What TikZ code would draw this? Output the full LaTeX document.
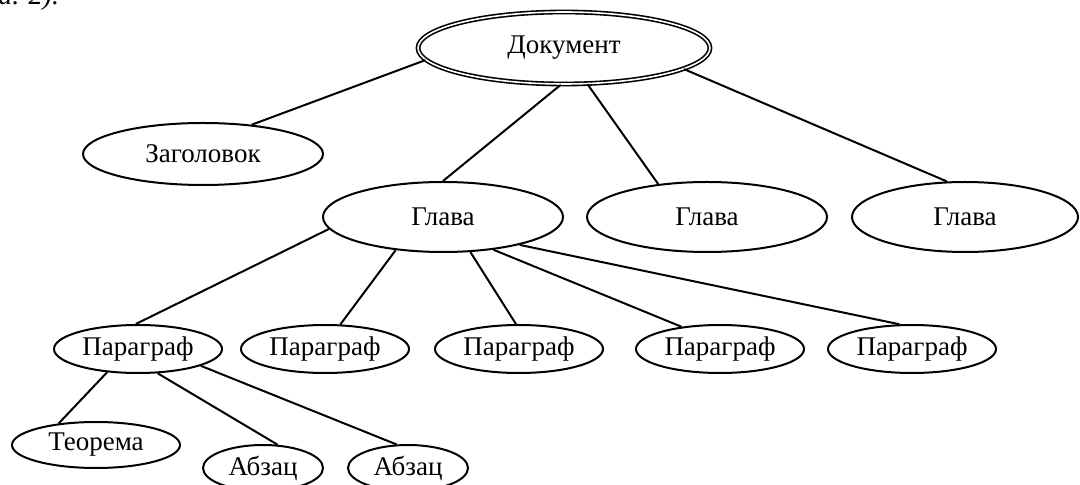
\documentclass[tikz,border=0pt]{standalone}
\usepackage{fontspec}
\setmainfont{Liberation Serif}
\usetikzlibrary{shapes.geometric}

\begin{document}
\begin{tikzpicture}[yscale=-1
,elbox/.style={draw,ellipse,line width=1pt,inner sep=0pt,font=\fontsize{13.5pt}{15pt}\selectfont}
,parbox/.style={elbox,minimum width=84pt,minimum height=24pt}
,link/.style={line width=1pt}
]
\clip (0pt,0pt) rectangle (540pt,242.5pt);
\node at (-1pt,2.5pt)[anchor=base west,inner sep=0pt,font=\fontsize{14pt}{16pt}\selectfont\itshape] (ref) {а. 2).};
\node at (282pt,24pt)[elbox,double,double distance=0.8pt,line width=0.8pt,minimum width=146pt,minimum height=36pt] (doc) {Документ};
\node at (101.5pt,77pt)[elbox,minimum width=120pt,minimum height=31pt] (zag) {Заголовок};
\node at (221.5pt,108.5pt)[elbox,minimum width=120pt,minimum height=35pt] (gl1) {Глава};
\node at (353.5pt,108.5pt)[elbox,minimum width=120pt,minimum height=35pt] (gl2) {Глава};
\node at (482.5pt,108.5pt)[elbox,minimum width=113pt,minimum height=35pt] (gl3) {Глава};
\node at (69pt,174.5pt)[parbox] (par1) {Параграф};
\node at (162.5pt,174.5pt)[parbox] (par2) {Параграф};
\node at (259.5pt,174.5pt)[parbox] (par3) {Параграф};
\node at (360pt,174.5pt)[parbox] (par4) {Параграф};
\node at (456pt,174.5pt)[parbox] (par5) {Параграф};
\node at (48pt,222.5pt)[elbox,minimum width=84pt,minimum height=23pt] (teo) {Теорема};
\node at (131.5pt,234pt)[elbox,minimum width=60pt,minimum height=23pt] (abz1) {Абзац};
\node at (204pt,234pt)[elbox,minimum width=60pt,minimum height=23pt] (abz2) {Абзац};
\draw[link] (doc.185) -- (zag.31);
\draw[link] (doc.265) -- (gl1.90);
\draw[link] (doc.303) -- (gl2.146);
\draw[link] (doc.350) -- (gl3.117);
\draw[link] (gl1.186) -- (par1.95);
\draw[link] (gl1.215) -- (par2.58);
\draw[link] (gl1.308) -- (par3.97);
\draw[link] (gl1.327) -- (par4.150);
\draw[link] (gl1.340) -- (par5.117);
\draw[link] (par1.217) -- (teo.150);
\draw[link] (par1.309) -- (abz1.58);
\draw[link] (par1.345) -- (abz2.116);
\end{tikzpicture}
\end{document}
